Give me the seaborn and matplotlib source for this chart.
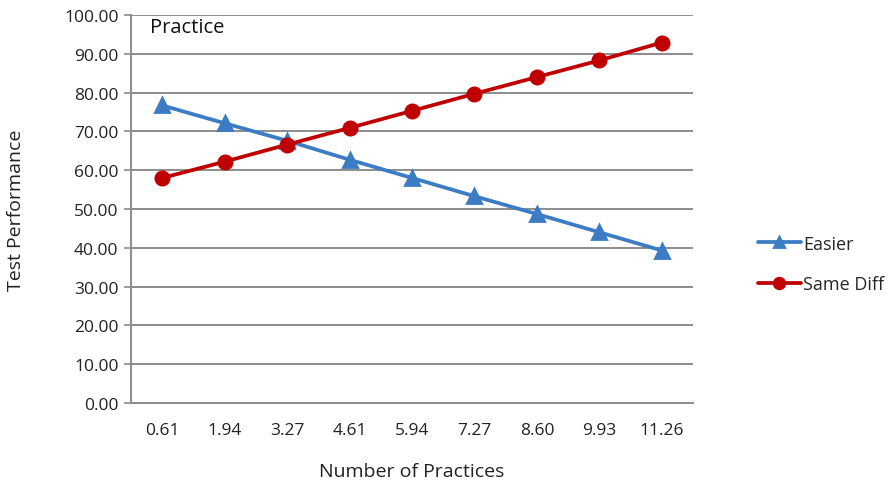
import numpy as np
import pandas as pd
import seaborn as sns
import matplotlib
matplotlib.use("Agg")
import matplotlib.pyplot as plt

practices = ["0.61", "1.94", "3.27", "4.61", "5.94", "7.27", "8.60", "9.93", "11.26"]
easier = [76.7, 72.1, 67.6, 62.7, 58.0, 53.3, 48.7, 44.0, 39.3]
same_diff = [58.0, 62.2, 66.6, 70.9, 75.3, 79.7, 84.0, 88.3, 92.9]
series_names = ["Easier", "Same Diff"]
y_ticks = [0, 10, 20, 30, 40, 50, 60, 70, 80, 90, 100]

df = pd.DataFrame({
    "practice": practices * 2,
    "score": easier + same_diff,
    "series": [series_names[0]] * len(easier) + [series_names[1]] * len(same_diff),
})

sns.set_style("white")
plt.rcParams["font.family"] = ["Open Sans", "DejaVu Sans"]

fig = plt.figure(figsize=(8.88, 4.85), dpi=100)
ax = fig.add_axes([0.1475, 0.167, 0.633, 0.8])

grid_col = "#8c8c8c"
txt_col = "#222222"
for v in y_ticks[1:]:
    ax.axhline(v, color=grid_col, lw=1.4, zorder=0)

sns.pointplot(data=df, x="practice", y="score", hue="series", order=practices,
              hue_order=series_names, palette=["#3c7cc4", "#c00000"],
              markers=["^", "o"], linestyles=["-", "-"], errorbar=None,
              markersize=9.5, linewidth=2.7, ax=ax)

ax.set_ylim(0, 100)
ax.set_xlim(-0.5, len(practices) - 0.5)
ax.set_yticks(y_ticks)
ax.set_yticklabels([f"{v:.2f}" for v in y_ticks], fontsize=12.5, color=txt_col)
ax.set_xticks(range(len(practices)))
ax.set_xticklabels(practices, fontsize=12.5, color=txt_col)
ax.set_xticks(np.arange(-0.5, len(practices)), minor=True)
ax.tick_params(axis="x", which="major", length=0, pad=14)
ax.tick_params(axis="x", which="minor", length=5, color=grid_col, width=1.2)
ax.tick_params(axis="y", length=5, color=grid_col, width=1.2, left=True, pad=4)

for s in ["top", "right"]:
    ax.spines[s].set_visible(False)
for s in ["left", "bottom"]:
    ax.spines[s].set_color(grid_col)
    ax.spines[s].set_linewidth(1.4)

ax.set_xlabel("Number of Practices", fontsize=14, labelpad=17, color=txt_col)
ax.set_ylabel("Test Performance", fontsize=14, labelpad=28, color=txt_col)
ax.text(0.033, 0.97, "Practice", transform=ax.transAxes, fontsize=14.5,
        va="center", ha="left", color="#111111")

handles, labels = ax.get_legend_handles_labels()
ax.get_legend().remove()
fig.legend(handles, labels, loc="center left", bbox_to_anchor=(0.843, 0.454),
           frameon=False, fontsize=13, labelspacing=1.25, handlelength=2.4,
           handletextpad=0.1, markerscale=0.8, borderpad=0)

fig.savefig("out.png", dpi=100)
